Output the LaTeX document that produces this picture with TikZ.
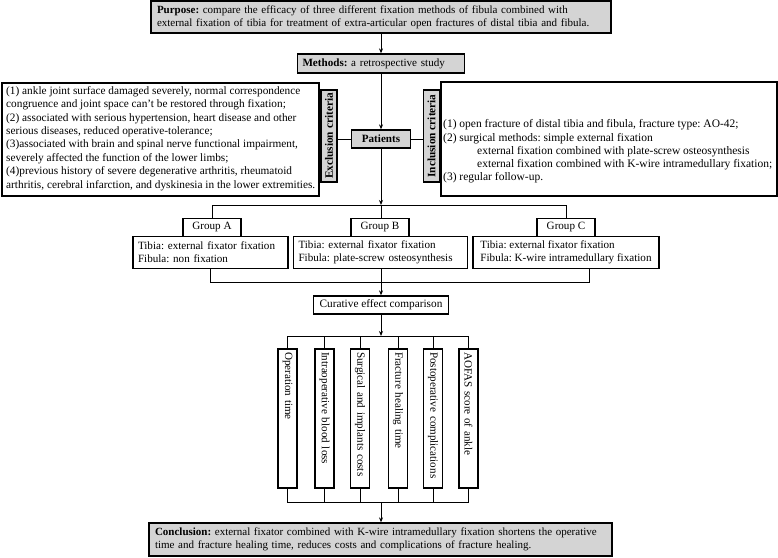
\documentclass[tikz,border=0pt]{standalone}
\usepackage{fontspec}
\setmainfont{Liberation Serif}
\usetikzlibrary{arrows.meta}
\begin{document}
\frenchspacing
\begin{tikzpicture}[x=1pt,y=-1pt,
  box/.style={draw, line width=1.3pt, inner sep=0pt, font=\fontsize{11.1}{13.1}\selectfont},
  gbox/.style={box, fill=black!17},
  conn/.style={line width=0.9pt},
  arr/.style={conn, -{Stealth[length=5pt,width=4pt]}},
  txt/.style={inner sep=0pt, font=\fontsize{11.3}{13.35}\selectfont},
  vlab/.style={gbox, rotate=90, minimum width=92pt, minimum height=16pt, font=\fontsize{11.3}{12}\selectfont\bfseries},
  bar/.style={box, rotate=-90, minimum width=139pt, minimum height=19pt, text width=133pt, align=left}
]
\useasboundingbox (0,0) rectangle (778,557);

% top chain
\node[gbox, minimum width=460pt, minimum height=32pt, text width=448pt, align=left,
      font=\fontsize{11.0}{13.2}\selectfont] (purpose) at (381,17)
  {\makebox[411pt][s]{\textbf{Purpose:} compare the efficacy of three different fixation methods of fibula combined with}\\
   external fixation of tibia for treatment of extra-articular open fractures of distal tibia and fibula.};
\node[gbox, minimum width=167pt, minimum height=19pt, text width=157pt, align=left] (methods) at (381,63.5)
  {\textbf{Methods:} a retrospective study};
\node[gbox, minimum width=59pt, minimum height=18pt] (patients) at (381,139) {\textbf{Patients}};

% exclusion
\node[box, minimum width=317pt, minimum height=113pt] (excl) at (160.5,139.5) {};
\node[txt, anchor=north west, align=left] (excltxt) at (6,86.4)
  {(1) ankle joint surface damaged severely, normal correspondence\\
   congruence and joint space can't be restored through fixation;\\
   (2) associated with serious hypertension, heart disease and other\\
   serious diseases, reduced operative-tolerance;\\
   (3)associated with brain and spinal nerve functional impairment,\\
   severely affected the function of the lower limbs;\\
   (4)previous history of severe degenerative arthritis, rheumatoid\\
   arthritis, cerebral infarction, and dyskinesia in the lower extremities.};
\node[vlab] (exlab) at (329,136) {Exclusion criteria};

% inclusion
\node[box, minimum width=336pt, minimum height=114pt] (incl) at (609,139) {};
\node[vlab] (inlab) at (431.5,136) {Inclusion criteria};
\node[txt, anchor=north west, align=left, font=\fontsize{11.5}{13.2}\selectfont] (incltxt) at (443,119.5)
  {(1) open fracture of distal tibia and fibula, fracture type: AO-42;\\
   (2) surgical methods: simple external fixation\\
   \hspace*{34pt}external fixation combined with plate-screw osteosynthesis\\
   \hspace*{34pt}external fixation combined with K-wire intramedullary fixation;\\
   (3) regular follow-up.};

% groups
\node[box, minimum width=58pt, minimum height=18pt] (gAl) at (212,227.5) {Group A};
\node[box, minimum width=58pt, minimum height=18pt] (gBl) at (380,227.5) {Group B};
\node[box, minimum width=58pt, minimum height=18pt] (gCl) at (566,227.5) {Group C};
\node[box, minimum width=155pt, minimum height=32pt, text width=145pt, align=left] (gA) at (210.5,252.5)
  {Tibia: external fixator fixation\\ Fibula: non fixation};
\node[box, minimum width=174pt, minimum height=32pt, text width=164pt, align=left] (gB) at (380.5,252.5)
  {Tibia: external fixator fixation\\ Fibula: plate-screw osteosynthesis};
\node[box, minimum width=186pt, minimum height=32pt, align=left] (gC) at (566,252.5)
  {Tibia: external fixator fixation\\ Fibula: K-wire intramedullary fixation};

\node[box, minimum width=135pt, minimum height=18pt, font=\fontsize{11.3}{13}\selectfont] (cur) at (381,305) {Curative effect comparison};

% bars
\node[bar] (b1) at (287.5,418.5) {Operation time};
\node[bar] (b2) at (324.5,418.5) {Intraoperative blood loss};
\node[bar] (b3) at (360,418.5) {Surgical and implants costs};
\node[bar] (b4) at (398,418.5) {Fracture healing time};
\node[bar] (b5) at (433,418.5) {Postoperative complications};
\node[bar] (b6) at (468.5,418.5) {AOFAS score of ankle};

\node[gbox, minimum width=463pt, minimum height=33pt, text width=451pt, align=left,
      font=\fontsize{11.0}{13.2}\selectfont] (concl) at (380.5,539.5)
  {\parbox{446pt}{\textbf{Conclusion:} external fixator combined with K-wire intramedullary fixation shortens the operative\linebreak
   time and fracture healing time, reduces costs and complications of fracture healing.}};

% connectors
\draw[arr] (purpose) -- (methods);
\draw[arr] (methods) -- (methods |- patients.north);
\draw[conn] (patients.west) -- (patients.west -| exlab.south);
\draw[conn] (patients.east) -- (patients.east -| inlab.north);

\coordinate (s1) at (381,205);
\draw[arr] (patients) -- (s1);
\draw[conn] (gAl.north) -- (gAl.north |- s1) -- (gCl.north |- s1) -- (gCl.north);
\draw[conn] (s1) -- (s1 |- gBl.north);

\coordinate (s2) at (381,282);
\coordinate (gCd) at (589,268.5);
\draw[conn] (gA.south) -- (gA.south |- s2) -- (gCd |- s2) -- (gCd);
\draw[conn] (gB.south -| s2) -- (s2);
\draw[arr] (s2) -- (cur.north);

\coordinate (s3) at (381,336);
\draw[arr] (cur) -- (s3);
\draw[conn] (b1.west) -- (b1.west |- s3) -- (b6.west |- s3) -- (b6.west);
\foreach \b in {b2,b3,b4,b5} \draw[conn] (\b.west) -- (\b.west |- s3);

\coordinate (s4) at (381,502);
\draw[conn] (b1.east) -- (b1.east |- s4) -- (b6.east |- s4) -- (b6.east);
\foreach \b in {b2,b3,b4,b5} \draw[conn] (\b.east) -- (\b.east |- s4);
\draw[arr] (s4) -- (s4 |- concl.north);
\end{tikzpicture}
\end{document}
